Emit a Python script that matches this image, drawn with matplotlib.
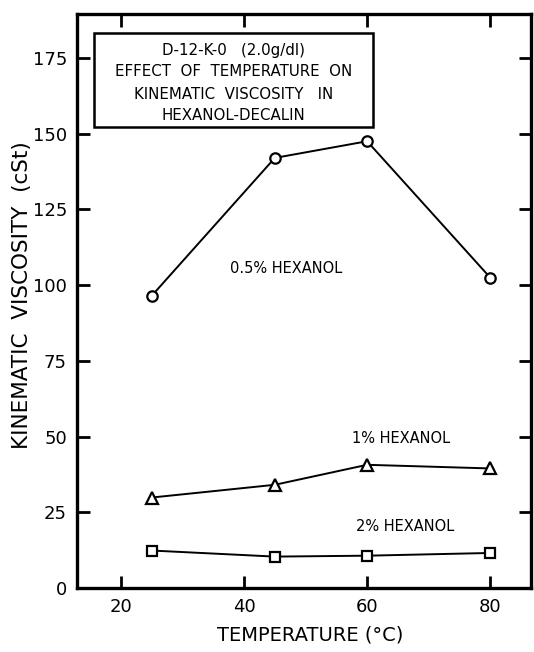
import matplotlib
matplotlib.use("Agg")
import matplotlib.pyplot as plt
from matplotlib.patches import Rectangle

temperature = [25, 45, 60, 80]
visc_05 = [96.5, 142.0, 147.5, 102.5]
visc_1 = [29.9, 34.1, 40.7, 39.5]
visc_2 = [12.4, 10.4, 10.7, 11.6]

xticks = [20, 40, 60, 80]
yticks = [0, 25, 50, 75, 100, 125, 150, 175]

title_lines = ["D-12-K-0   (2.0g/dl)",
               "EFFECT  OF  TEMPERATURE  ON",
               "KINEMATIC  VISCOSITY   IN",
               "HEXANOL-DECALIN"]

plt.rcParams['font.family'] = ['DejaVu Sans']

fig = plt.figure(figsize=(5.34, 6.52), dpi=100)
ax = fig.add_axes([0.1436, 0.098, 0.8504, 0.8805])

mk = dict(color='black', linewidth=1.4, markerfacecolor='white',
          markeredgecolor='black', markeredgewidth=1.6)
ax.plot(temperature, visc_05, marker='o', markersize=7.5, **mk)
ax.plot(temperature, visc_1, marker='^', markersize=8, **mk)
ax.plot(temperature, visc_2, marker='s', markersize=7.5, **mk)

ax.set_xlim(12.8, 86.6)
ax.set_ylim(0, 189.5)
ax.set_xticks(xticks)
ax.set_yticks(yticks)
ax.tick_params(direction='in', length=9, width=2, labelsize=13,
               top=True, right=True, pad=7)
for s in ax.spines.values():
    s.set_linewidth(2.4)

ax.set_xlabel("TEMPERATURE (°C)", fontsize=14)
ax.set_ylabel("KINEMATIC  VISCOSITY  (cSt)", fontsize=15.5)
ax.xaxis.set_label_coords(0.515, -0.065)
ax.yaxis.set_label_coords(-0.098, 0.51)

box = Rectangle((15.6, 152.1), 61.0 - 15.6, 183.2 - 152.1, fill=False,
                edgecolor='black', linewidth=1.8, zorder=3)
ax.add_patch(box)
for yy, t in zip([177.6, 170.6, 163.0, 156.0], title_lines):
    ax.text(38.3, yy, t, ha='center', va='center', fontsize=10.8)

ax.text(37.7, 105.5, "0.5% HEXANOL", ha='left', va='center', fontsize=10.5)
ax.text(57.5, 49.3, "1% HEXANOL", ha='left', va='center', fontsize=10.5)
ax.text(58.2, 20.4, "2% HEXANOL", ha='left', va='center', fontsize=10.5)

fig.savefig("out.png", dpi=100)
